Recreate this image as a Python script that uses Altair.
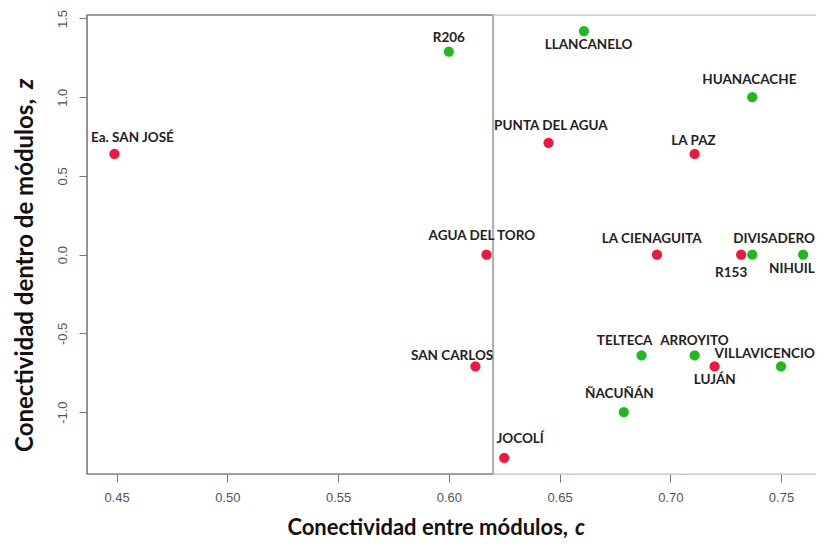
import altair as alt
import pandas as pd

# ---- data ----
sitios = ["Ea. SAN JOSÉ", "R206", "LLANCANELO", "HUANACACHE", "PUNTA DEL AGUA", "LA PAZ",
          "AGUA DEL TORO", "LA CIENAGUITA", "R153", "DIVISADERO", "NIHUIL", "SAN CARLOS",
          "TELTECA", "ARROYITO", "LUJÁN", "VILLAVICENCIO", "ÑACUÑÁN", "JOCOLÍ"]
conect_c = [0.449, 0.600, 0.661, 0.737, 0.645, 0.711,
            0.617, 0.694, 0.732, 0.737, 0.760, 0.612,
            0.687, 0.711, 0.720, 0.750, 0.679, 0.625]
conect_z = [0.64, 1.29, 1.42, 1.00, 0.71, 0.64,
            0.00, 0.00, 0.00, 0.00, 0.00, -0.71,
            -0.64, -0.64, -0.71, -0.71, -1.00, -1.29]
grupo = ["rojo", "verde", "verde", "verde", "rojo", "rojo",
         "rojo", "rojo", "rojo", "verde", "verde", "rojo",
         "verde", "verde", "rojo", "verde", "verde", "rojo"]
# label anchor positions (data units)
etiqueta_c = [0.4571, 0.600, 0.6631, 0.7357, 0.6461, 0.7105,
              0.6149, 0.6916, 0.7275, 0.7653, 0.7653, 0.6015,
              0.6794, 0.7109, 0.7201, 0.7653, 0.6770, 0.6322]
etiqueta_z = [0.744, 1.374, 1.330, 1.107, 0.816, 0.721,
              0.121, 0.100, -0.117, 0.100, -0.089, -0.641,
              -0.547, -0.547, -0.795, -0.630, -0.884, -1.170]
etiqueta_alin = ["center"] * 9 + ["right", "right"] + ["center"] * 4 + ["right"] + ["center"] * 2

umbral_c = [0.62]
ticks_x = [0.45, 0.50, 0.55, 0.60, 0.65, 0.70, 0.75]
ticks_y = [-1.0, -0.5, 0.0, 0.5, 1.0, 1.5]
dominio_x = [0.4366, 0.7658]
dominio_y = [-1.393, 1.522]

df = pd.DataFrame({"sitio": sitios, "c": conect_c, "z": conect_z, "grupo": grupo,
                   "lc": etiqueta_c, "lz": etiqueta_z, "alin": etiqueta_alin})
df_umbral = pd.DataFrame({"c0": [dominio_x[0]], "c": umbral_c})

W, H = 729, 459

xs = alt.Scale(domain=dominio_x, nice=False, zero=False)
ys = alt.Scale(domain=dominio_y, nice=False, zero=False)

ax_x = alt.Axis(values=ticks_x, format=".2f", title=None, grid=False, domain=False,
                tickSize=8, tickColor="#777", labelFont="Liberation Sans", labelFontSize=13,
                labelColor="#555", labelPadding=9)
ax_y = alt.Axis(values=ticks_y, title=None, grid=False, domain=False,
                tickSize=8, tickColor="#777", labelFont="Liberation Sans", labelFontSize=13,
                labelColor="#555", labelPadding=10, labelAngle=270, labelAlign="center",
                labelBaseline="bottom",
                labelExpr="datum.value < 0 ? '-' + format(-datum.value, '.1f') : format(datum.value, '.1f')")

base = alt.Chart(df)

frame = alt.Chart(alt.Data(values=[{}])).mark_rect(fill=None, stroke="#c4c4c4", strokeWidth=1.2).encode(
    x=alt.value(0), x2=alt.value(W + 10), y=alt.value(0), y2=alt.value(H))

left_box = alt.Chart(df_umbral).mark_rect(fill=None, stroke="#666", strokeWidth=1.2).encode(
    x=alt.X("c0:Q", scale=xs), x2=alt.X2("c"), y=alt.value(0), y2=alt.value(H))

vline = alt.Chart(df_umbral).mark_rule(color="#b0b0b0", strokeWidth=2).encode(
    x=alt.X("c:Q", scale=xs), y=alt.value(0), y2=alt.value(H))

points = base.mark_circle(size=105, opacity=1).encode(
    x=alt.X("c:Q", scale=xs, axis=ax_x),
    y=alt.Y("z:Q", scale=ys, axis=ax_y),
    color=alt.Color("grupo:N", scale=alt.Scale(domain=["rojo", "verde"], range=["#F0173E", "#1EBB1E"]),
                    legend=None))

lab_c = base.transform_filter("datum.alin == 'center'").mark_text(
    font="Lato", fontWeight="bold", fontSize=13.5, color="#222", align="center", baseline="middle").encode(
    x=alt.X("lc:Q", scale=xs), y=alt.Y("lz:Q", scale=ys), text="sitio:N")

lab_r = base.transform_filter("datum.alin == 'right'").mark_text(
    font="Lato", fontWeight="bold", fontSize=13.5, color="#222", align="right", baseline="middle").encode(
    x=alt.X("lc:Q", scale=xs), y=alt.Y("lz:Q", scale=ys), text="sitio:N")

one = alt.Data(values=[{}])
xt1 = alt.Chart(one).mark_text(text="Conectividad entre módulos,", font="Lato", fontWeight="bold",
                               fontSize=22, color="#111", align="right", baseline="middle").encode(
    x=alt.value(481), y=alt.value(513))
xt2 = alt.Chart(one).mark_text(text="c", font="Lato", fontWeight="bold", fontStyle="italic",
                               fontSize=22, color="#111", align="left", baseline="middle").encode(
    x=alt.value(488), y=alt.value(513))
yt1 = alt.Chart(one).mark_text(text="Conectividad dentro de módulos,", font="Lato", fontWeight="bold",
                               fontSize=24, color="#111", align="right", baseline="middle", angle=270).encode(
    x=alt.value(-61), y=alt.value(84))
yt2 = alt.Chart(one).mark_text(text="z", font="Lato", fontWeight="bold", fontStyle="italic",
                               fontSize=24, color="#111", align="left", baseline="middle", angle=270).encode(
    x=alt.value(-61), y=alt.value(74))

chart = alt.layer(frame, left_box, vline, points, lab_c, lab_r, xt1, xt2, yt1, yt2).properties(
    width=W, height=H,
    padding={"left": 79, "top": 7, "right": 0, "bottom": 66},
    autosize=alt.AutoSizeParams(type="none"),
).configure_view(stroke=None).configure(background="white")

chart.save("out.html", embed_options={"renderer": "svg", "actions": False})
